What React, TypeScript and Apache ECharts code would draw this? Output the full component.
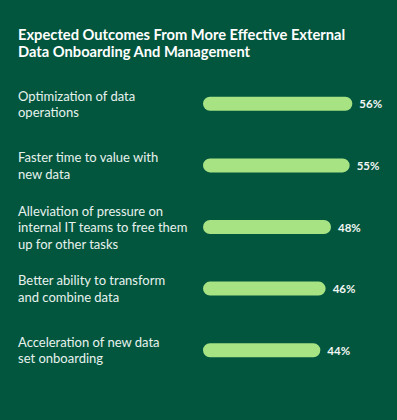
import React, { useEffect, useRef } from "react";
import * as echarts from "echarts";

const titleText = "Expected Outcomes From More Effective External\nData Onboarding And Management";
const categories = [
  "Optimization of data\noperations",
  "Faster time to value with\nnew data",
  "Alleviation of pressure on\ninternal IT teams to free them\nup for other tasks",
  "Better ability to transform\nand combine data",
  "Acceleration of new data\nset onboarding",
];
const values = [56, 55, 48, 46, 44];

export default function App() {
  const ref = useRef<HTMLDivElement>(null);
  useEffect(() => {
    if (!ref.current) return;
    const chart = echarts.init(ref.current, undefined, { renderer: "svg" });
    chart.setOption({
      animation: false,
      backgroundColor: "#02563E",
      title: {
        text: titleText,
        left: 18,
        top: 25,
        padding: 0,
        textStyle: {
          color: "#FFFFFF",
          fontFamily: "Lato",
          fontWeight: "bold",
          fontSize: 14.7,
          lineHeight: 17,
        },
      },
      grid: { left: 203, width: 160, top: 73, height: 308 },
      xAxis: {
        type: "value",
        min: 0,
        max: 60,
        show: false,
      },
      yAxis: {
        type: "category",
        data: categories,
        inverse: true,
        axisLine: { show: false },
        axisTick: { show: false },
        splitLine: { show: false },
        axisLabel: {
          align: "left",
          margin: 185,
          color: "#E8F2ED",
          fontFamily: "Lato",
          fontSize: 13,
          lineHeight: 16.5,
          padding: [0, 0, 8, 0],
        },
      },
      series: [
        {
          type: "bar",
          data: values,
          barWidth: 14,
          itemStyle: { color: "#A7E283", borderRadius: 7 },
          label: {
            show: true,
            position: "right",
            distance: 7,
            formatter: "{c}%",
            color: "#F2F6F4",
            fontFamily: "Lato",
            fontWeight: "bold",
            fontSize: 11.5,
          },
        },
      ],
    });
    return () => chart.dispose();
  }, []);
  return (
    <div
      ref={ref}
      style={{ position: "fixed", left: 0, top: 0, width: 397, height: 420 }}
    />
  );
}
